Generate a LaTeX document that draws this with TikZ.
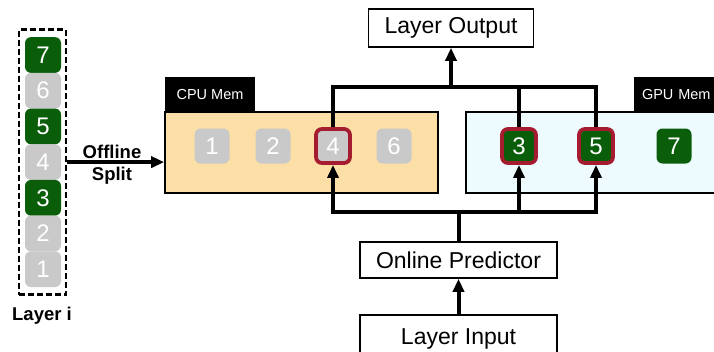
\documentclass[tikz,border=0pt]{standalone}
\usepackage{fontspec}
\setmainfont{Liberation Sans}
\usetikzlibrary{arrows.meta}
\definecolor{dgreen}{HTML}{0A5E0A}
\definecolor{lgray}{HTML}{C9C9C9}
\definecolor{dred}{HTML}{A51C30}
\definecolor{cpufill}{HTML}{FBDFA6}
\definecolor{gpufill}{HTML}{EEFBFE}
\tikzset{
  sq/.style={rounded corners=6pt, minimum width=35pt, minimum height=35pt, inner sep=0pt,
    text=white, font=\fontsize{24}{24}\selectfont},
  gsq/.style={sq, fill=dgreen},
  ysq/.style={sq, fill=lgray},
  hot/.style={draw=dred, line width=3.8pt, minimum width=34pt, minimum height=34pt},
  colsq/.style={rounded corners=6pt, minimum width=36pt, minimum height=35.7pt, inner sep=0pt,
    text=white, font=\fontsize{24}{24}\selectfont},
  membox/.style={draw=black, line width=1.6pt, inner sep=0pt},
  tab/.style={fill=black, text=white, inner sep=0pt, font=\fontsize{14.5}{14.5}\selectfont},
  lbox/.style={draw=black, line width=1.6pt, fill=white, inner sep=0pt, font=\fontsize{23}{23}\selectfont},
  wire/.style={line width=4pt, black},
  arr/.style={wire, -{Triangle[length=13pt,width=11pt]}},
  bfont/.style={font=\bfseries\fontsize{18.5}{18.5}\selectfont}
}
\begin{document}
\begin{tikzpicture}[x=1pt,y=-1pt]
\clip (0,0) rectangle (714,351);
\fill[white] (0,0) rectangle (714,351);

% left column
\node[draw=black, line width=2.2pt, dash pattern=on 6pt off 3pt,
  minimum width=47pt, minimum height=265pt, inner sep=0pt] (col) at (42.5,162) {};
\node[colsq, fill=dgreen] (l7) at (43,55) {7};
\node[colsq, fill=lgray] (l6) at (43,90.7) {6};
\node[colsq, fill=dgreen] (l5) at (43,126.4) {5};
\node[colsq, fill=lgray] (l4) at (43,162.1) {4};
\node[colsq, fill=dgreen] (l3) at (43,197.8) {3};
\node[colsq, fill=lgray] (l2) at (43,233.5) {2};
\node[colsq, fill=lgray] (l1) at (43,269.2) {1};
\node[bfont] (li) at (42,316) {Layer i};

% memory boxes
\node[membox, fill=cpufill, minimum width=273pt, minimum height=81pt] (cpu) at (301.5,152.5) {};
\node[tab, minimum width=90pt, minimum height=35pt] (cputab) at (210,94.5) {CPU Mem};
\node[membox, fill=gpufill, minimum width=252pt, minimum height=81pt] (gpu) at (592,152.5) {};
\node[tab, minimum width=92pt, minimum height=35pt, text width=75pt, align=left] (gputab) at (679.5,94.5) {GPU Mem};

% CPU squares
\node[ysq] (c1) at (212,146) {1};
\node[ysq] (c2) at (273,146) {2};
\node[ysq, hot] (c4) at (333,146) {4};
\node[ysq] (c6) at (394,146) {6};
% GPU squares
\node[gsq, hot] (g3) at (519,146) {3};
\node[gsq, hot] (g5) at (596,146) {5};
\node[gsq] (g7) at (674,146) {7};

% offline split
\draw[arr] (col.east |- l4) -- (cpu.west |- l4);
\node[bfont] (off) at (112,152) {Offline};
\node[bfont] (spl) at (112,176) {Split};

% top and bottom boxes
\node[lbox, minimum width=165pt, minimum height=38pt] (out) at (451,28) {Layer Output};
\node[lbox, minimum width=197pt, minimum height=36pt] (pred) at (458.5,260) {Online Predictor};
\node[lbox, minimum width=197pt, minimum height=48pt] (inp) at (458.5,339) {Layer Input};

% top connectors
\coordinate (topbar) at (451,87);
\draw[wire] (c4.north) |- (topbar) -| (g5.north);
\draw[wire] (g3.north) -- (g3.north |- topbar);
\draw[arr] (topbar) -- (out.south);

% bottom connectors
\coordinate (botbar) at (458.5,212);
\draw[wire] (pred.north) -- (botbar);
\draw[arr] (botbar) -| (c4.south);
\draw[arr] (botbar) -| (g5.south);
\draw[arr] (g3.south |- botbar) -- (g3.south);
\draw[arr] (inp.north) -- (pred.south);
\end{tikzpicture}
\end{document}
